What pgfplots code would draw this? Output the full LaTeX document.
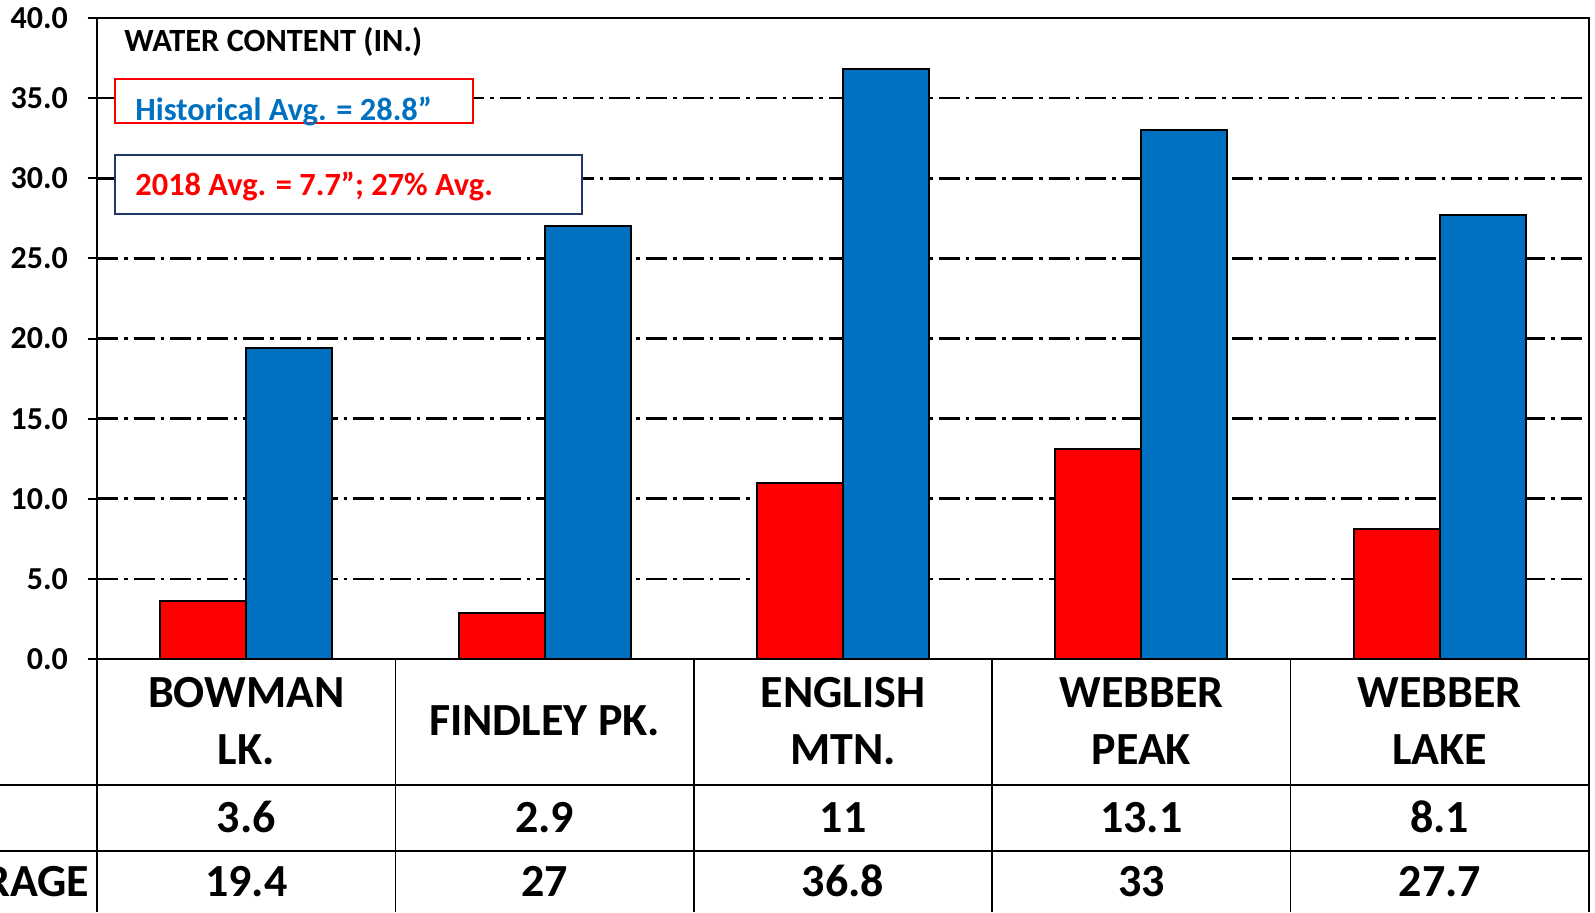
\documentclass[border=0pt]{standalone}
\usepackage{fontspec}
\setmainfont{Carlito}
\usepackage{pgfplots}
\pgfplotsset{compat=1.18}
\definecolor{cred}{HTML}{FF0000}
\definecolor{cblue}{HTML}{0070C0}
\definecolor{navy}{HTML}{1F3864}
\newcommand{\tf}{\bfseries\fontsize{23}{26}\selectfont}
\newcommand{\bff}{\bfseries\fontsize{16.2}{19}\selectfont}
\begin{document}
\begin{tikzpicture}
\begin{axis}[
 at={(0,0)}, anchor=south west,
 scale only axis, width=746pt, height=320.5pt,
 xmin=-0.5, xmax=4.5, ymin=0, ymax=40,
 xtick=\empty,
 ytick={0,5,...,40}, ytick pos=left,
 yticklabel style={font=\bfseries\fontsize{16}{17}\selectfont, xshift=-6.5pt, /pgf/number format/.cd, fixed, fixed zerofill, precision=1, assume math mode=true},
 tick align=outside, major tick length=4.5pt,
 ytick style={black, line width=1pt},
 axis line style={black, line width=1.2pt},
 ymajorgrids, major grid style={black, line width=1.3pt, dash pattern=on 10.5pt off 3pt on 1.8pt off 3pt},
 ybar=0pt, bar width=43pt,
 clip=false,
]
\addplot[fill=cred, draw=black, line width=1pt] coordinates {(0,3.6) (1,2.9) (2,11) (3,13.1) (4,8.1)};
\addplot[fill=cblue, draw=black, line width=1pt] coordinates {(0,19.4) (1,27) (2,36.8) (3,33) (4,27.7)};
\end{axis}
\node[anchor=base west, font=\bff, inner sep=0pt] at (13.5pt,303.8pt) {WATER CONTENT (IN.)};
\draw[cred, line width=0.9pt, fill=white] (9pt,268pt) rectangle (188pt,290pt);
\node[anchor=base west, text=cblue, font=\bff, inner sep=0pt] at (19pt,269.3pt) {Historical Avg. = 28.8”};
\draw[navy, line width=0.9pt, fill=white] (9pt,222.5pt) rectangle (242.5pt,252pt);
\node[anchor=base west, text=cred, font=\bff, inner sep=0pt] at (19pt,232pt) {2018 Avg. = 7.7”; 27\% Avg.};
% table
\draw[line width=0.8pt] (-48.5pt,-63pt) -- (746pt,-63pt);
\draw[line width=0.8pt] (-48.5pt,-96pt) -- (746pt,-96pt);
\foreach \i in {0,...,5} {\draw[line width=0.8pt] (\i*149.2pt,0pt) -- (\i*149.2pt,-126.5pt);}
\foreach \i/\a/\b/\c/\d in {0/BOWMAN/LK./3.6/19.4, 2/ENGLISH/MTN./11/36.8, 3/WEBBER/PEAK/13.1/33, 4/WEBBER/LAKE/8.1/27.7} {
  \node[anchor=base, font=\tf] at ({(\i+0.5)*149.2pt},-24.4pt) {\a};
  \node[anchor=base, font=\tf] at ({(\i+0.5)*149.2pt},-52.9pt) {\b};
  \node[anchor=base, font=\tf] at ({(\i+0.5)*149.2pt},-86.9pt) {\c};
  \node[anchor=base, font=\tf] at ({(\i+0.5)*149.2pt},-118.9pt) {\d};
}
\node[anchor=base, font=\tf] at ({1.5*149.2pt},-38.4pt) {FINDLEY PK.};
\node[anchor=base, font=\tf] at ({1.5*149.2pt},-86.9pt) {2.9};
\node[anchor=base, font=\tf] at ({1.5*149.2pt},-118.9pt) {27};
\node[anchor=base east, font=\tf, inner sep=0pt] at (-3.75pt,-118.9pt) {AVERAGE};
\pgfresetboundingbox
\useasboundingbox (-48.5pt,-126.5pt) rectangle (749pt,329.5pt);
\end{tikzpicture}
\end{document}
